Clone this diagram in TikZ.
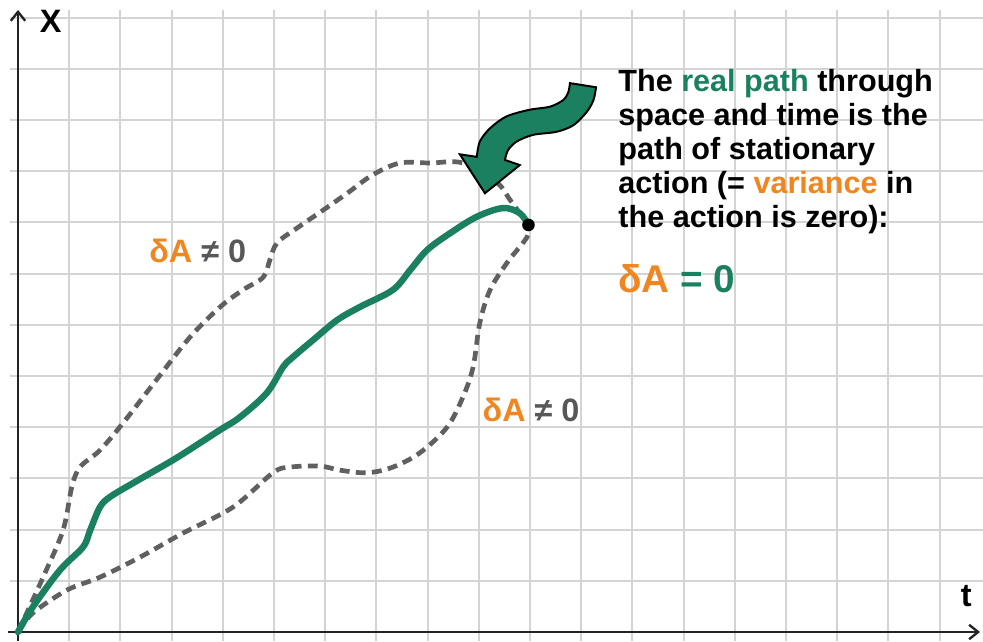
\documentclass[tikz,border=0pt]{standalone}
\usepackage{fontspec}
\setmainfont{Liberation Sans}
\usepackage{tikz}
\usetikzlibrary{arrows.meta}
\usepackage{xcolor}
\definecolor{pathgreen}{RGB}{26,128,96}
\definecolor{deltaorange}{RGB}{240,134,32}
\definecolor{dashgray}{RGB}{96,96,96}
\definecolor{neqgray}{RGB}{88,88,88}
\definecolor{gridgray}{RGB}{212,212,212}
\definecolor{axisdark}{RGB}{35,35,35}

\begin{document}
\begin{tikzpicture}[
  gridline/.style={gridgray, line width=1.2pt},
  axis/.style={-{Straight Barb[length=5pt, width=8pt]}, axisdark, line width=1.3pt},
  realpath/.style={pathgreen, line width=3.6pt, line cap=round, line join=round},
  otherpath/.style={dashgray, line width=2.6pt, dash pattern=on 5.5pt off 3.5pt},
  bigarrow/.style={fill=pathgreen, draw=black, line width=1.1pt},
  dot/.style={circle, fill=black, inner sep=0pt, minimum size=7pt},
  axislabel/.style={font=\fontsize{18}{20}\selectfont\bfseries, text=black},
  note/.style={font=\fontsize{17}{18.9}\selectfont\bfseries, align=left,
               inner sep=0pt, text=black},
  bigeq/.style={font=\fontsize{21.5}{24}\selectfont\bfseries, inner sep=0pt,
                text=pathgreen},
  vartext/.style={font=\fontsize{18}{20}\selectfont\bfseries, text=neqgray},
]
  \useasboundingbox (-0.352,-0.176) rectangle (18.848,12.344);
  \fill[white] (-0.352,-0.176) rectangle (18.848,12.344);

  \foreach \x in {1,...,18}
    \draw[gridline] (\x,-0.18) -- (\x,12.15);
  \foreach \y in {1,...,12}
    \draw[gridline] (-0.16,\y) -- (18.85,\y);

  \coordinate (origin) at (0,0);
  \coordinate (xtop) at (0,12.15);
  \coordinate (tend) at (18.79,0);
  \draw[axis] (0,-0.18) -- (xtop);
  \draw[axis] (-0.2,0) -- (tend);
  \node[axislabel] (xlabel) at (0.64,11.93) {X};
  \node[axislabel] (tlabel) at (18.52,0.7) {t};

  \coordinate (final) at (9.97,7.95);

  \draw[otherpath] plot[smooth, tension=0.55] coordinates {(origin) (0.49,1.07)
    (0.88,1.99) (1.05,2.83) (1.21,3.22) (1.60,3.55) (2.05,4.08) (2.70,4.92)
    (3.36,5.76) (3.95,6.35) (4.39,6.68) (4.79,6.93) (4.92,7.27) (5.06,7.60)
    (5.45,7.89) (5.96,8.24) (6.43,8.57) (6.93,8.93) (7.46,9.16) (8.05,9.16)
    (8.69,9.16) (9.36,8.77) (9.61,8.44) (final)};
  \draw[otherpath] plot[smooth, tension=0.55] coordinates {(origin) (0.29,0.37)
    (0.96,0.82) (1.60,1.07) (2.38,1.46) (3.22,1.93) (4.20,2.44) (4.98,3.11)
    (5.31,3.22) (5.90,3.24) (6.29,3.16) (6.82,3.11) (7.32,3.22) (7.85,3.50)
    (8.38,4.00) (8.69,4.59) (8.89,5.18) (9.02,6.04) (9.22,6.68) (9.55,7.21)
    (9.94,7.71) (final)};
  \draw[realpath] plot[smooth, tension=0.55] coordinates {(origin) (0.29,0.49)
    (0.82,1.21) (1.27,1.66) (1.41,1.99) (1.60,2.44) (1.80,2.64) (2.25,2.91)
    (3.03,3.36) (3.55,3.69) (3.95,3.95) (4.34,4.20) (4.86,4.67) (5.18,5.18)
    (5.37,5.37) (5.76,5.70) (6.23,6.09) (6.68,6.35) (7.32,6.68) (7.66,7.07)
    (7.99,7.46) (8.44,7.79) (8.96,8.11) (9.47,8.28) (9.80,8.18) (final)};

  \draw[bigarrow] plot[smooth] coordinates {(11.29,10.64) (11.24,10.39)
    (11.11,10.16) (10.85,9.90) (10.52,9.77) (10.06,9.71) (9.74,9.58)
    (9.57,9.41) (9.51,9.22)} -- (9.80,9.12) -- (9.12,8.57) -- (8.63,9.33)
    -- plot[smooth] coordinates {(8.96,9.28) (9.02,9.58) (9.22,9.84)
    (9.54,10.07) (9.99,10.20) (10.39,10.26) (10.65,10.39) (10.75,10.55)
    (10.78,10.72)} -- cycle;

  \node[dot] (stop) at (final) {};

  \node[vartext] (upper) at (3.51,7.44) {\textcolor{deltaorange}{δA} ≠ 0};
  \node[vartext] (lower) at (10.02,4.34) {\textcolor{deltaorange}{δA} ≠ 0};

  \node[note, anchor=north west] (caption) at (11.72,11.0)
    {The \textcolor{pathgreen}{real path} through\\
     space and time is the\\
     path of stationary\\
     action (= \textcolor{deltaorange}{variance} in\\
     the action is zero):};
  \node[bigeq, anchor=base west] (zero) at (11.72,6.64)
    {\textcolor{deltaorange}{δA} = 0};
\end{tikzpicture}
\end{document}
